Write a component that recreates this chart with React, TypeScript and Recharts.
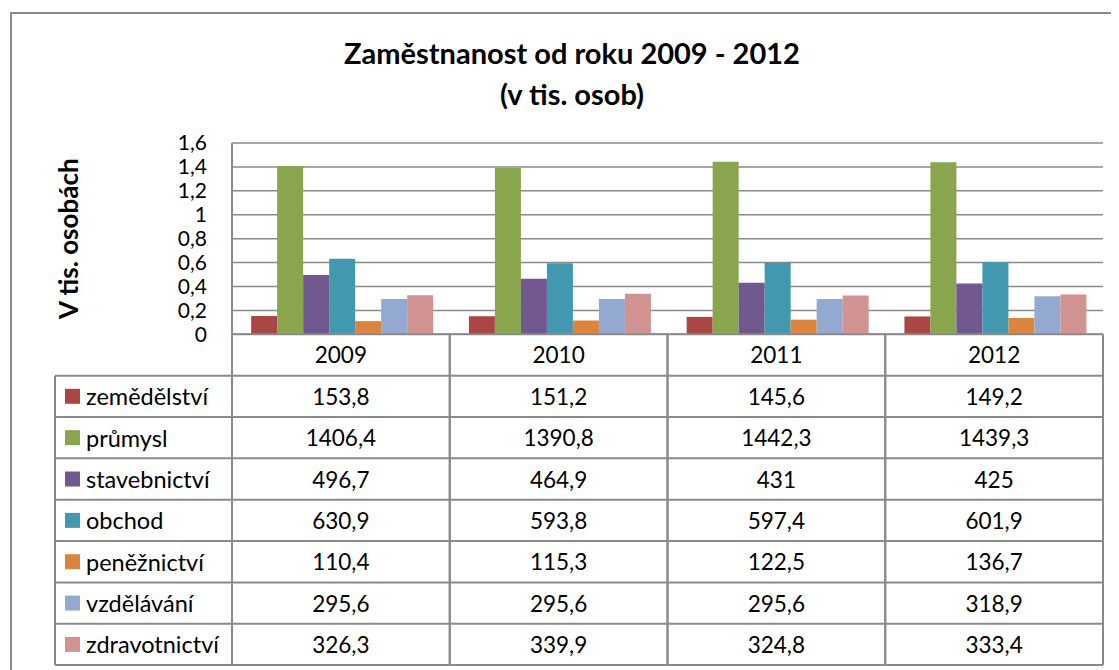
import React from 'react';
import { BarChart, Bar, XAxis, YAxis, CartesianGrid, Label } from 'recharts';

const years = ['2009', '2010', '2011', '2012'];
const seriesNames = ['zemědělství', 'průmysl', 'stavebnictví', 'obchod', 'peněžnictví', 'vzdělávání', 'zdravotnictví'];
const zemedelstvi = [153.8, 151.2, 145.6, 149.2];
const prumysl = [1406.4, 1390.8, 1442.3, 1439.3];
const stavebnictvi = [496.7, 464.9, 431, 425];
const obchod = [630.9, 593.8, 597.4, 601.9];
const peneznictvi = [110.4, 115.3, 122.5, 136.7];
const vzdelavani = [295.6, 295.6, 295.6, 318.9];
const zdravotnictvi = [326.3, 339.9, 324.8, 333.4];
const yTicks = [0, 0.2, 0.4, 0.6, 0.8, 1, 1.2, 1.4, 1.6];
const seriesColors = ['#AA4643', '#89A54E', '#71588F', '#4198AF', '#DB843D', '#93A9CF', '#D19392'];

const seriesValues = [zemedelstvi, prumysl, stavebnictvi, obchod, peneznictvi, vzdelavani, zdravotnictvi];
const data = years.map((y, i) => {
  const row: any = { year: y };
  seriesValues.forEach((vals, s) => {
    row['s' + s] = vals[i] / 1000;
  });
  return row;
});

const FONT = 'Lato, "Noto Sans", sans-serif';
const LINE = '#8a8a8a';
const W = 1111;
const H = 662;
const M = { top: 135, right: 16, left: 0, bottom: 0 };
const YW = 224;
const PLOT_W = W - M.left - YW - M.right;
const BAND = PLOT_W / years.length;
const PLOT_BOTTOM = 326.3;
const ROW_H = 41.35;
const LEG_LEFT = 47;

const fmt = (v: number) => String(v).replace('.', ',');

function TableTick(props: any) {
  const { x, payload, index } = props;
  const half = BAND / 2;
  const left = x - half;
  const right = x + half;
  const top = PLOT_BOTTOM;
  const bottom = top + ROW_H * (seriesNames.length + 1);
  const els: any[] = [];
  els.push(<line key="vl" x1={left} x2={left} y1={top} y2={bottom} stroke={LINE} strokeWidth={2} />);
  els.push(<line key="vr" x1={right} x2={right} y1={top} y2={bottom} stroke={LINE} strokeWidth={2} />);
  els.push(
    <text key="yr" x={x} y={top + ROW_H / 2} textAnchor="middle" dominantBaseline="central" fontSize={22.5} fill="#000" fontFamily={FONT}>
      {payload.value}
    </text>
  );
  for (let r = 0; r <= seriesNames.length; r++) {
    const ly = top + ROW_H * (r + 1);
    els.push(<line key={'h' + r} x1={left} x2={right} y1={ly} y2={ly} stroke={LINE} strokeWidth={2} />);
  }
  seriesNames.forEach((name, s) => {
    const cy = top + ROW_H * (s + 1) + ROW_H / 2;
    els.push(
      <text key={'v' + s} x={x} y={cy} textAnchor="middle" dominantBaseline="central" fontSize={22.5} fill="#000" fontFamily={FONT}>
        {fmt(seriesValues[s][index])}
      </text>
    );
  });
  if (index === 0) {
    const t1 = top + ROW_H;
    els.push(<line key="ll" x1={LEG_LEFT} x2={LEG_LEFT} y1={t1} y2={bottom} stroke={LINE} strokeWidth={2} />);
    for (let r = 0; r <= seriesNames.length; r++) {
      const ly = t1 + ROW_H * r;
      els.push(<line key={'lh' + r} x1={LEG_LEFT} x2={left} y1={ly} y2={ly} stroke={LINE} strokeWidth={2} />);
    }
    seriesNames.forEach((name, s) => {
      const cy = t1 + ROW_H * s + ROW_H / 2;
      els.push(<rect key={'sq' + s} x={LEG_LEFT + 10} y={cy - 7.5} width={15} height={15} fill={seriesColors[s]} />);
      els.push(
        <text key={'ln' + s} x={LEG_LEFT + 31} y={cy} dominantBaseline="central" fontSize={23.5} fill="#000" fontFamily={FONT}>
          {name}
        </text>
      );
    });
  }
  return <g>{els}</g>;
}

function YLabel(props: any) {
  const vb = props.viewBox || {};
  const cy = (vb.y || 0) + (vb.height || 0) / 2;
  const cx = 60;
  return (
    <text x={cx} y={cy} transform={`rotate(-90, ${cx}, ${cy})`} textAnchor="middle" dominantBaseline="central" fontSize={26} fontWeight="bold" fill="#000" fontFamily={FONT}>
      V tis. osobách
    </text>
  );
}

export default function App() {
  return (
    <div style={{ position: 'relative', width: W, height: H, overflow: 'hidden', background: '#fff' }}>
      <div style={{ position: 'absolute', left: 2, top: 4, width: W + 50, height: H + 50, border: '2px solid ' + LINE, boxSizing: 'border-box' }} />
      <div style={{ position: 'absolute', left: 0, top: 24, width: 1128, textAlign: 'center', fontFamily: FONT, fontWeight: 'bold', fontSize: 29, lineHeight: '41px', color: '#000' }}>
        <div>Zaměstnanost od roku 2009 - 2012</div>
        <div>(v tis. osob)</div>
      </div>
      <div style={{ position: 'absolute', left: 0, top: 0 }}>
        <BarChart width={W} height={H} data={data} margin={M} barCategoryGap="8.8%" barGap={0}>
          <CartesianGrid vertical={false} stroke={LINE} strokeWidth={1.5} />
          <XAxis dataKey="year" height={H - PLOT_BOTTOM} axisLine={{ stroke: LINE, strokeWidth: 2 }} tickLine={false} interval={0} tick={<TableTick />} />
          <YAxis
            width={YW}
            domain={[0, 1.6]}
            ticks={yTicks}
            interval={0}
            tickFormatter={(v: number) => fmt(Number(v.toFixed(1)))}
            axisLine={{ stroke: LINE, strokeWidth: 2 }}
            tickLine={false}
            tickSize={0}
            tickMargin={25}
            tick={{ fontSize: 21, fill: '#000', fontFamily: FONT }}
          >
            <Label content={<YLabel />} />
          </YAxis>
          {seriesNames.map((name, s) => (
            <Bar key={name} dataKey={'s' + s} name={name} fill={seriesColors[s]} isAnimationActive={false} />
          ))}
        </BarChart>
      </div>
    </div>
  );
}
